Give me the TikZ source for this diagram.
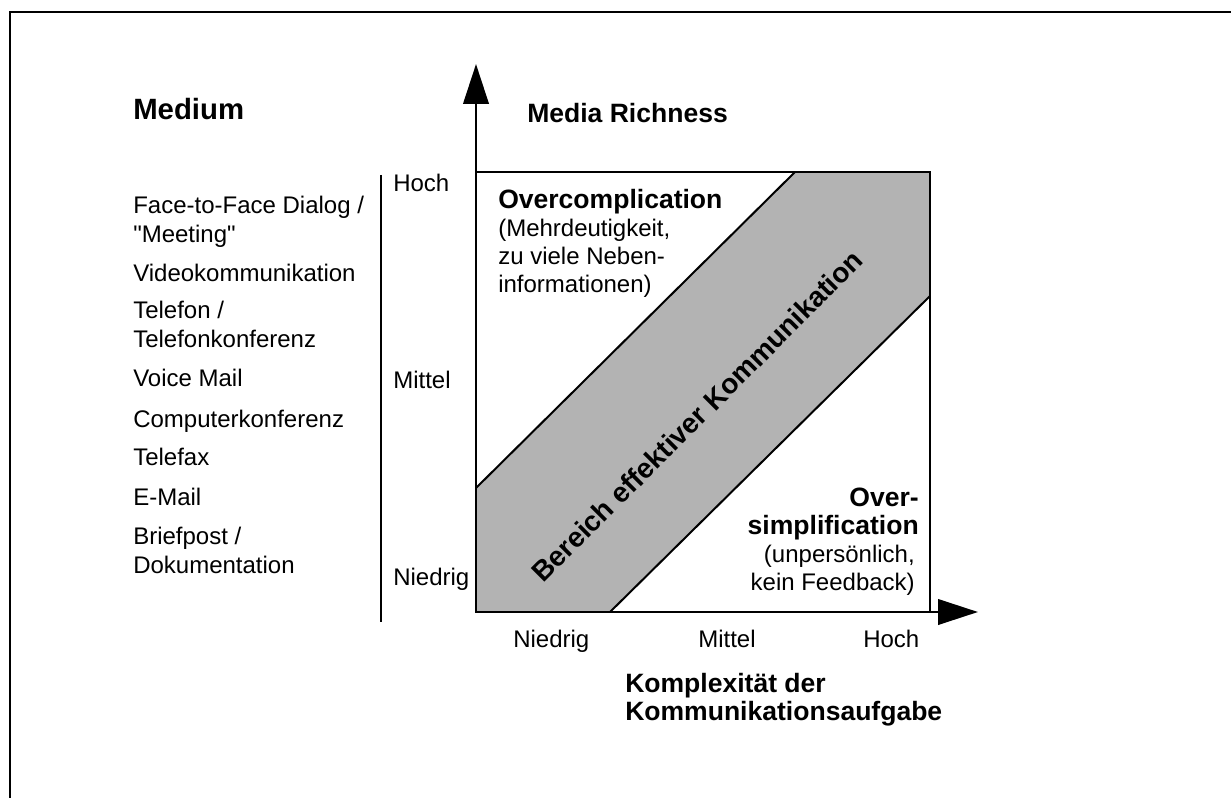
\documentclass[tikz,border=0pt]{standalone}
\usepackage{fontspec}
\setmainfont{Liberation Sans}
\usetikzlibrary{arrows.meta,positioning}
\definecolor{bandgray}{RGB}{179,179,179}

\begin{document}
\begin{tikzpicture}[
    x=0.75pt, y=-0.75pt,
    lab/.style={inner sep=0pt, anchor=base west, align=left, font=\fontsize{18}{21.75}\selectfont},
    head/.style={inner sep=0pt, anchor=base west, align=left, font=\bfseries\fontsize{19.9}{21}\selectfont},
    boxtext/.style={inner sep=0pt, align=left, font=\fontsize{18}{21}\selectfont},
    axis/.style={line width=2.2pt, -{Triangle[length=30pt,width=19pt]}},
    frameline/.style={line width=2pt},
    edge/.style={line width=1.5pt}
]
\useasboundingbox (0,0) rectangle (1231,798);
\draw[frameline] (10,798) -- (10,12) -- (1231,12);

% Koordinaten der Matrix
\coordinate (O) at (476,612);
\coordinate (ytip) at (476,64);
\coordinate (xtip) at (978,612);
\coordinate (NE) at (930,172);
\coordinate (u1) at (476,488);
\coordinate (u2) at (795,172);
\coordinate (l1) at (610,612);
\coordinate (l2) at (930,296);
\coordinate (st) at (381,175);
\coordinate (sb) at (381,622);

% Band
\fill[bandgray] (u1) -- (u2) -- (NE) -- (l2) -- (l1) -- (O) -- cycle;
\draw[edge] (u1) -- (u2);
\draw[edge] (l1) -- (l2);
\draw[line width=2.2pt] (O) rectangle (NE);
\draw[axis] (O) -- (ytip);
\draw[axis] (O) -- (xtip);
\draw[line width=2.2pt] (st) -- (sb);

\node[rotate=45, font=\bfseries\fontsize{21}{22}\selectfont] (band) at (697,416) {Bereich effektiver Kommunikation};

% Achsen (bei mehrzeiligen Knoten: Grundlinie der letzten Zeile)
\node[head, font=\bfseries\fontsize{22}{24}\selectfont] (medium) at (133,120) {Medium};
\node[head] (rich) at (527,123) {Media Richness};
\node[head] (komp) at (625,720) {Komplexit\"at der\\Kommunikationsaufgabe};

\node[lab] (yh) at (393,192) {Hoch};
\node[lab] (ym) at (393,388) {Mittel};
\node[lab] (yn) at (393,585) {Niedrig};

\node[lab] (xn) at (513,647) {Niedrig};
\node[lab] (xm) at (698,647) {Mittel};
\node[lab] (xh) at (863,647) {Hoch};

% Medien
\node[lab] (m1) at (133,243) {Face-to-Face Dialog /\\\textquotedbl Meeting\textquotedbl};
\node[lab] (m2) at (133,282) {Videokommunikation};
\node[lab] (m3) at (133,348) {Telefon /\\Telefonkonferenz};
\node[lab] (m4) at (133,387) {Voice Mail};
\node[lab] (m5) at (133,427) {Computerkonferenz};
\node[lab] (m6) at (133,465) {Telefax};
\node[lab] (m7) at (133,505) {E-Mail};
\node[lab] (m8) at (133,573) {Briefpost /\\Dokumentation};

% Bereiche
\node[head] (oc) at (498,209) {Overcomplication};
\node[boxtext, anchor=base west] (ocx) at (498,293) {(Mehrdeutigkeit,\\zu viele Neben-\\informationen)};
\node[head, anchor=base east, align=right] (os) at (919,534) {Over-\\simplification};
\node[boxtext, anchor=base east, align=right] (osx) at (915,590) {(unpers\"onlich,\\kein Feedback)};
\end{tikzpicture}
\end{document}
